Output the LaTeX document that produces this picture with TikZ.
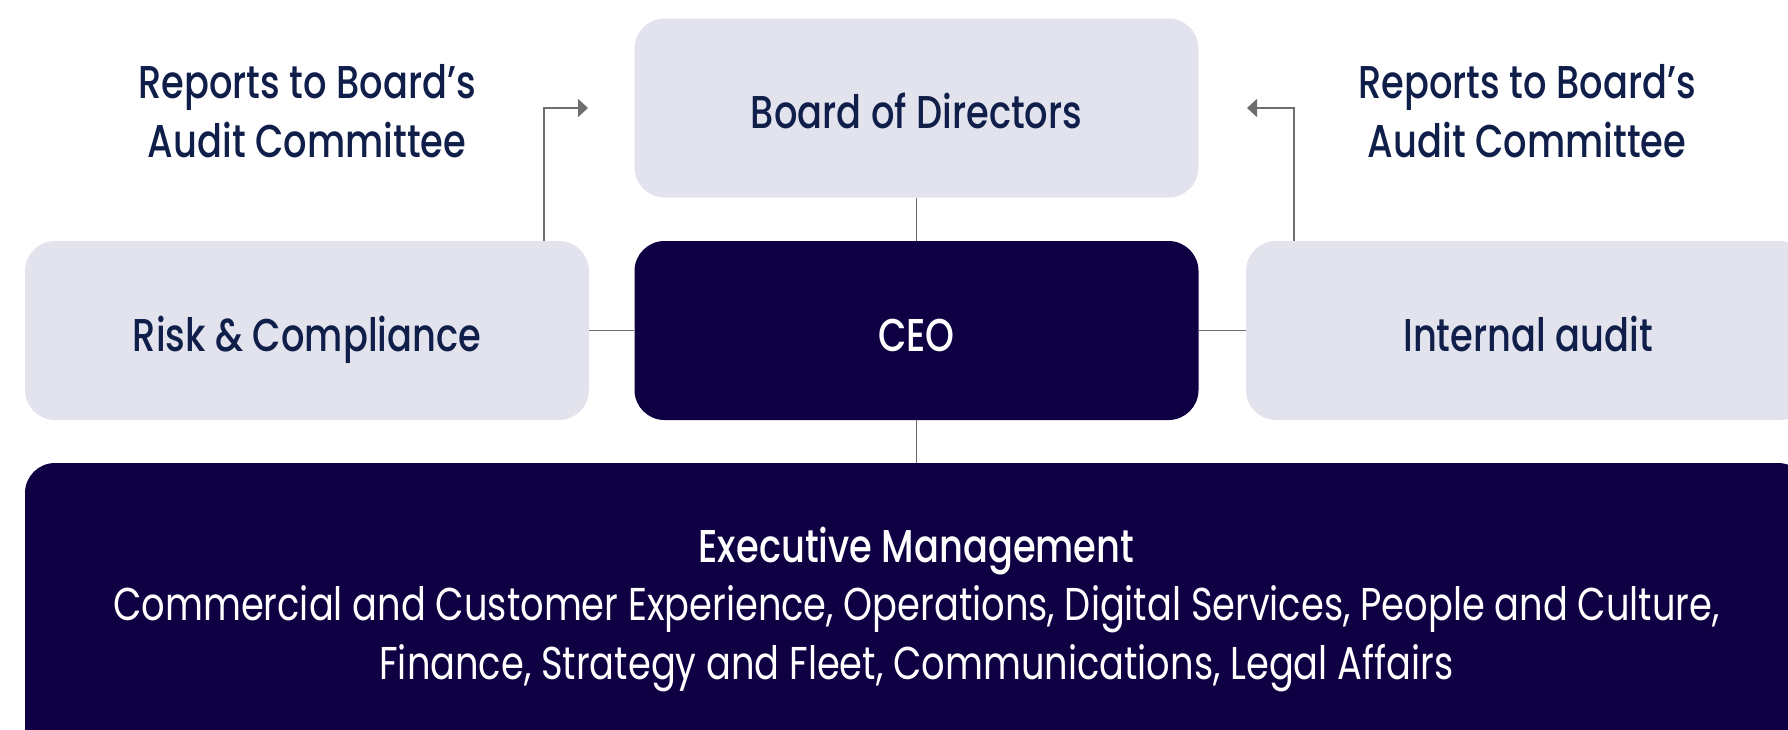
\documentclass[tikz,border=0pt]{standalone}
\usepackage{fontspec}
\setmainfont{Poppins}[FakeStretch=0.80]
\newfontfamily\medfont{Poppins Medium}[FakeStretch=0.80]
\usetikzlibrary{arrows.meta}
\definecolor{lightfill}{HTML}{E3E3EE}
\definecolor{darkfill}{HTML}{0E0042}
\definecolor{navytext}{HTML}{101E4A}
\definecolor{linegray}{HTML}{6E6E6E}
\tikzset{
  box/.style={rounded corners=15pt, minimum width=282pt, minimum height=89.5pt,
    inner sep=0pt, text height=20.5pt, text depth=0pt,
    font=\medfont\fontsize{23}{27}\selectfont},
  lightbox/.style={box, fill=lightfill, text=navytext},
  darkbox/.style={box, fill=darkfill, text=white},
  note/.style={inner sep=0pt, anchor=base, text=navytext, font=\medfont\fontsize{23}{27}\selectfont},
  exectitle/.style={inner sep=0pt, anchor=base, text=white, font=\medfont\fontsize{23}{27}\selectfont},
  execline/.style={inner sep=0pt, anchor=base, text=white, font=\fontsize{23}{27}\selectfont},
  conn/.style={draw=linegray, line width=0.8pt},
  tip/.style={-{Triangle[length=5pt,width=9pt]}}
}
\begin{document}
\begin{tikzpicture}[x=0.5pt, y=-0.5pt]
  \useasboundingbox (0,0) rectangle (1788,729);
  \clip (0,0) rectangle (1788,729);
  % boxes
  \node[lightbox] (board) at (916.5,108) {Board of Directors};
  \node[lightbox] (risk) at (307,330.5) {Risk \& Compliance};
  \node[darkbox] (ceo) at (916.5,330.5) {CEO};
  \node[lightbox] (audit) at (1528,330.5) {Internal audit};
  \node[fill=darkfill, rounded corners=15pt, minimum width=891.5pt, minimum height=150pt, inner sep=0pt] (exec) at (916.5,613) {};
  % labels
  \node[note] (repL1) at (307,98) {Reports to Board’s};
  \node[note] (repL2) at (307,157) {Audit Committee};
  \node[note] (repR1) at (1527,98) {Reports to Board’s};
  \node[note] (repR2) at (1527,157) {Audit Committee};
  \node[exectitle] (exect) at (916.5,562) {Executive Management};
  \node[execline] (execa) at (916.5,620) {Commercial and Customer Experience, Operations, Digital Services, People and Culture,};
  \node[execline] (execb) at (916.5,679) {Finance, Strategy and Fleet, Communications, Legal Affairs};
  % connectors
  \draw[conn] (board.south) -- (ceo.north);
  \draw[conn] (ceo.south) -- (ceo.south |- exec.north);
  \draw[conn] (risk.east) -- (ceo.west);
  \draw[conn] (ceo.east) -- (audit.west);
  \coordinate (la) at (544,108);
  \coordinate (lat) at (588,108);
  \coordinate (ra) at (1294,108);
  \coordinate (rat) at (1247,108);
  \draw[conn, tip] (risk.north -| la) -- (la) -- (lat);
  \draw[conn, tip] (audit.north -| ra) -- (ra) -- (rat);
\end{tikzpicture}
\end{document}
